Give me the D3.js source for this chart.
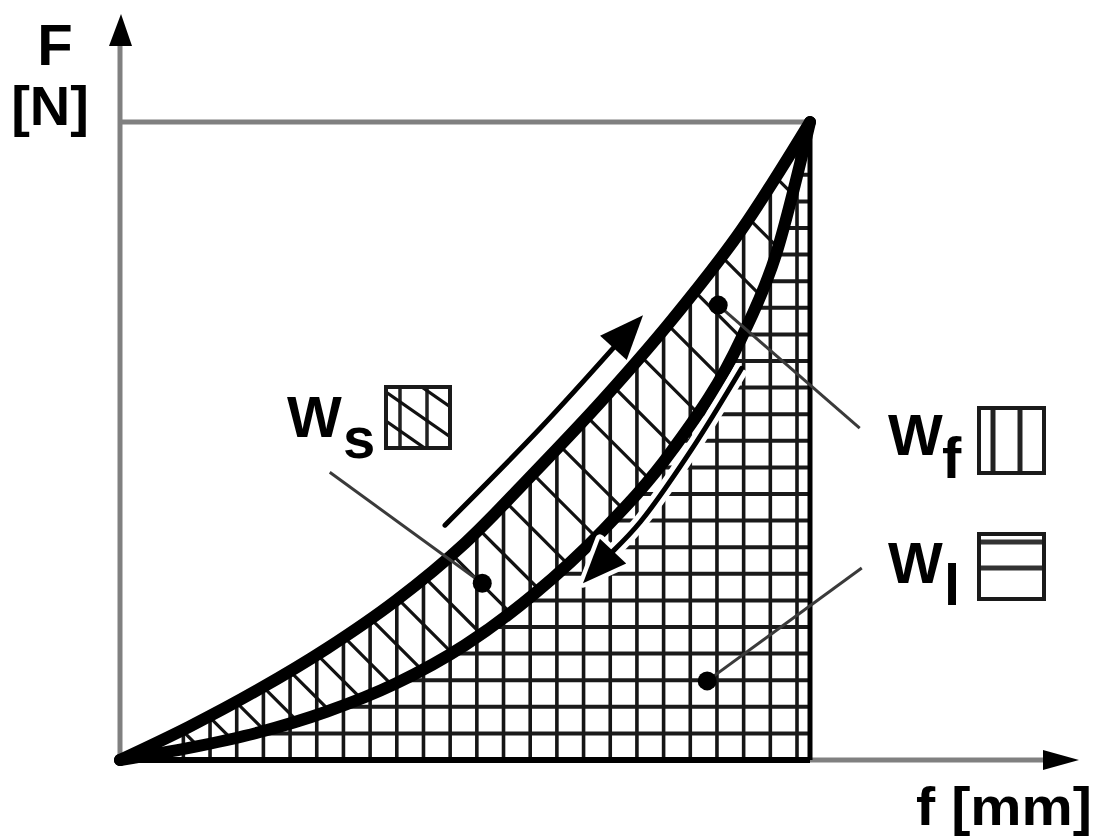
<!DOCTYPE html>
<html>
<head>
<meta charset="utf-8">
<script src="https://cdn.jsdelivr.net/npm/d3@7"></script>
<style>
  html, body { margin: 0; padding: 0; background: #ffffff; }
  svg { display: block; }
  text { font-family: "Liberation Sans", Arial, sans-serif; font-weight: bold; fill: #000; }
</style>
</head>
<body>
<svg id="chart" width="1097" height="840"></svg>
<script>
// Loading branch: deflection f [mm] and force F [N]
const loadDeflection = [0, 1, 2, 3, 4, 5, 6, 7, 8, 9, 10];
const loadForce      = [0, 5.2, 11, 17.5, 25, 34, 45, 56.5, 69, 83, 100];

// Unloading branch
const unloadDeflection = [0, 1, 2, 3, 4, 5, 6, 7, 8, 9, 9.5, 10];
const unloadForce      = [0, 1.9, 4.3, 7.6, 12.0, 18.0, 26.0, 36.0, 48.5, 66, 79, 100];

// Direction arrows running beside the two branches
const loadArrowDeflection   = [4.71, 6.09, 7.58];
const loadArrowForce        = [36.8, 52.0, 69.7];
const unloadArrowDeflection = [9.01, 8.28, 7.54, 6.71];
const unloadArrowForce      = [61.4, 48.6, 37.3, 27.7];

// Energy areas: subscripts, marker dots and the far ends of their leader lines
const energyNames       = ["s", "f", "l"];
const markerDeflection  = [5.25, 8.67, 8.51];
const markerForce       = [27.7, 71.3, 12.4];
const leaderDeflection  = [3.04, 10.72, 10.75];
const leaderForce       = [45.1, 52.0, 30.1];

// Axis titles
const yTitle = ["F", "[N]"];
const xTitle = "f [mm]";

const svg = d3.select("#chart");

const x = d3.scaleLinear().domain([0, 10]).range([120, 810]);
const y = d3.scaleLinear().domain([0, 100]).range([760, 122]);

const loadPts   = loadDeflection.map((f, i) => [f, loadForce[i]]);
const unloadPts = unloadDeflection.map((f, i) => [f, unloadForce[i]]);

const line = d3.line().x(d => x(d[0])).y(d => y(d[1])).curve(d3.curveMonotoneX);
const area = d3.area().x(d => x(d[0])).y0(y(0)).y1(d => y(d[1])).curve(d3.curveMonotoneX);
const smooth = d3.line().x(d => x(d[0])).y(d => y(d[1])).curve(d3.curveCatmullRom.alpha(0.5));

const defs = svg.append("defs");
defs.append("clipPath").attr("id", "underLoad").append("path").attr("d", area(loadPts));
defs.append("clipPath").attr("id", "underUnload").append("path").attr("d", area(unloadPts));
const band = defs.append("mask").attr("id", "hysteresis");
band.append("rect").attr("x", 0).attr("y", 0).attr("width", 1097).attr("height", 840).attr("fill", "black");
band.append("path").attr("d", area(loadPts)).attr("fill", "white");
band.append("path").attr("d", area(unloadPts)).attr("fill", "black");

const x0 = x(0), x1 = x(10), yBase = y(0), yTop = y(100);
const step = 26.68;

// W_f: vertical hatching under the loading branch
const hatchV = svg.append("g").attr("clip-path", "url(#underLoad)");
d3.range(x0 + 10, x1 - 6, step).forEach(px => {
  hatchV.append("line").attr("x1", px).attr("x2", px).attr("y1", yTop - 5).attr("y2", yBase)
    .attr("stroke", "#151515").attr("stroke-width", 3.6);
});

// W_l: horizontal hatching under the unloading branch
const hatchH = svg.append("g").attr("clip-path", "url(#underUnload)");
d3.range(yBase - 26.6, yTop + 10, -26.6).forEach(py => {
  hatchH.append("line").attr("x1", x0).attr("x2", x1).attr("y1", py).attr("y2", py)
    .attr("stroke", "#1a1a1a").attr("stroke-width", 4);
});

// W_s: diagonal rungs between the branches, one per strip along the loading branch
const probe = svg.append("path").attr("d", line(loadPts)).attr("fill", "none");
const node = probe.node();
const total = node.getTotalLength();
const samples = d3.range(0, total, 1).map(l => node.getPointAtLength(l));
probe.remove();
const yOnLoad = px => {
  let best = samples[0];
  for (const p of samples) if (Math.abs(p.x - px) < Math.abs(best.x - px)) best = p;
  return best.y;
};
const rungs = svg.append("g").attr("mask", "url(#hysteresis)");
d3.range(x0 + 8, x1 - 4, 27).forEach(px => {
  const py = yOnLoad(px);
  rungs.append("line").attr("x1", px - 120).attr("y1", py - 120).attr("x2", px + 200).attr("y2", py + 200)
    .attr("stroke", "#111").attr("stroke-width", 3.2);
});

// Frame of the diagram
const grey = "#808080";
svg.append("line").attr("x1", x0).attr("x2", 1046).attr("y1", yBase).attr("y2", yBase)
  .attr("stroke", grey).attr("stroke-width", 5);
svg.append("line").attr("x1", x0).attr("x2", x0).attr("y1", yBase).attr("y2", 42)
  .attr("stroke", grey).attr("stroke-width", 5);
svg.append("line").attr("x1", x0).attr("x2", x1).attr("y1", yTop).attr("y2", yTop)
  .attr("stroke", grey).attr("stroke-width", 5);
svg.append("path").attr("d", `M${x0 + 1},14 L${x0 - 11},46 L${x0 + 12},46 Z`).attr("fill", "#000");
svg.append("path").attr("d", `M1079,${yBase} L1043,${yBase - 10} L1043,${yBase + 10} Z`).attr("fill", "#000");
svg.append("line").attr("x1", x0).attr("x2", x1).attr("y1", yBase).attr("y2", yBase)
  .attr("stroke", "#000").attr("stroke-width", 6);
svg.append("line").attr("x1", x1).attr("x2", x1).attr("y1", yTop).attr("y2", yBase)
  .attr("stroke", "#000").attr("stroke-width", 5);

// The two branches
[loadPts, unloadPts].forEach(pts => {
  svg.append("path").attr("d", line(pts)).attr("fill", "none")
    .attr("stroke", "#000").attr("stroke-width", 12)
    .attr("stroke-linecap", "round").attr("stroke-linejoin", "round");
});

// Arrow helper: shaft along the points, filled head at the last point
function arrow(fs, Fs, halo) {
  const pts = fs.map((f, i) => [f, Fs[i]]);
  const tip = [x(pts[pts.length - 1][0]), y(pts[pts.length - 1][1])];
  const prev = [x(pts[pts.length - 2][0]), y(pts[pts.length - 2][1])];
  const ang = Math.atan2(tip[1] - prev[1], tip[0] - prev[0]);
  const len = 44, half = 18;
  const bx = tip[0] - len * Math.cos(ang), by = tip[1] - len * Math.sin(ang);
  const nx = -Math.sin(ang), ny = Math.cos(ang);
  const head = `M${tip[0]},${tip[1]} L${bx + half * nx},${by + half * ny} L${bx - half * nx},${by - half * ny} Z`;
  const shaft = smooth(pts.slice(0, -1).concat([[x.invert(bx), y.invert(by)]]));
  if (halo) {
    svg.append("path").attr("d", shaft).attr("fill", "none").attr("stroke", "#fff").attr("stroke-width", 15);
    svg.append("path").attr("d", head).attr("fill", "#fff").attr("stroke", "#fff").attr("stroke-width", 9)
      .attr("stroke-linejoin", "round");
  }
  svg.append("path").attr("d", shaft).attr("fill", "none").attr("stroke", "#000")
    .attr("stroke-width", 5).attr("stroke-linecap", "round");
  svg.append("path").attr("d", head).attr("fill", "#000");
}
arrow(loadArrowDeflection, loadArrowForce, false);
arrow(unloadArrowDeflection, unloadArrowForce, true);

// Leader lines and marker dots
energyNames.forEach((n, i) => {
  svg.append("line")
    .attr("x1", x(markerDeflection[i])).attr("y1", y(markerForce[i]))
    .attr("x2", x(leaderDeflection[i])).attr("y2", y(leaderForce[i]))
    .attr("stroke", "#3a3a3a").attr("stroke-width", 3);
  svg.append("circle").attr("cx", x(markerDeflection[i])).attr("cy", y(markerForce[i]))
    .attr("r", 9.5).attr("fill", "#000");
});

// Labels W_s, W_f, W_l with their hatch swatches
const fs = 58;
const labelLayout = [
  { wx: 287, wy: 437, sx: 343, sy: 458, bx: 386, by: 387, bw: 64, bh: 61 },
  { wx: 888, wy: 455, sx: 942, sy: 478, bx: 979, by: 408, bw: 65, bh: 65 },
  { wx: 888, wy: 583, sx: 944, sy: 605, bx: 979, by: 534, bw: 65, bh: 65 }
];
energyNames.forEach((n, i) => {
  const L = labelLayout[i];
  svg.append("text").attr("x", L.wx).attr("y", L.wy).attr("font-size", fs).text("W");
  svg.append("text").attr("x", L.sx).attr("y", L.sy).attr("font-size", fs).text(n);
  const g = svg.append("g");
  const cid = "swatch" + i;
  defs.append("clipPath").attr("id", cid).append("rect")
    .attr("x", L.bx).attr("y", L.by).attr("width", L.bw).attr("height", L.bh);
  const inner = g.append("g").attr("clip-path", `url(#${cid})`);
  if (n === "s" || n === "f") {
    [14, 41].forEach(dx => inner.append("line").attr("x1", L.bx + dx).attr("x2", L.bx + dx)
      .attr("y1", L.by).attr("y2", L.by + L.bh).attr("stroke", "#222").attr("stroke-width", n === "f" ? 5 : 3.5));
  }
  if (n === "s") {
    [-25, 5, 34].forEach(c => inner.append("line")
      .attr("x1", L.bx).attr("y1", L.by + c).attr("x2", L.bx + L.bw).attr("y2", L.by + c + 0.7 * L.bw)
      .attr("stroke", "#111").attr("stroke-width", 3.2));
  }
  if (n === "l") {
    [8, 34].forEach(dy => inner.append("line").attr("x1", L.bx).attr("x2", L.bx + L.bw)
      .attr("y1", L.by + dy).attr("y2", L.by + dy).attr("stroke", "#333").attr("stroke-width", 5));
  }
  g.append("rect").attr("x", L.bx).attr("y", L.by).attr("width", L.bw).attr("height", L.bh)
    .attr("fill", "none").attr("stroke", "#1a1a1a").attr("stroke-width", 4);
});

// Axis titles
svg.append("text").attr("x", 55).attr("y", 65).attr("text-anchor", "middle").attr("font-size", 58).text(yTitle[0]);
svg.append("text").attr("x", 50).attr("y", 125).attr("text-anchor", "middle").attr("font-size", 56).text(yTitle[1]);
svg.append("text").attr("x", 916).attr("y", 825).attr("font-size", 53)
  .attr("textLength", 176).attr("lengthAdjust", "spacingAndGlyphs").text(xTitle);
</script>
</body>
</html>
